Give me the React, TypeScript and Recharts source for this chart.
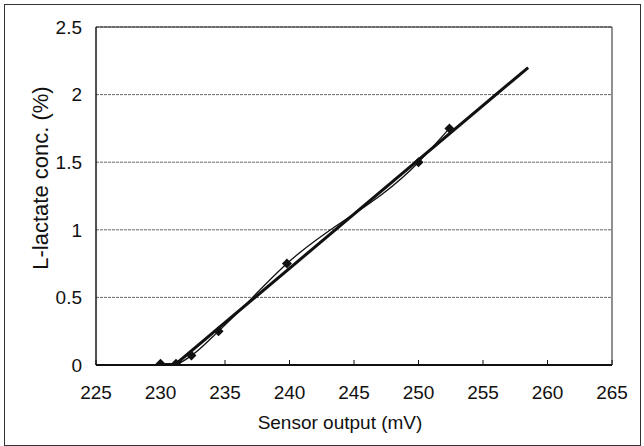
import {
  LineChart,
  Line,
  XAxis,
  YAxis,
  CartesianGrid,
  ReferenceArea,
} from 'recharts'

// measured points (sensor output mV -> L-lactate %)
const sensorOutput = [230.0, 231.2, 232.4, 234.5, 239.8, 250.0, 252.4]
const lactateConc = [0.01, 0.01, 0.07, 0.25, 0.75, 1.5, 1.75]

// least-squares fit line, drawn between two end points
const fitOutput = [231.1, 258.5]
const fitConc = [0, 2.2]

const xTicks = [225, 230, 235, 240, 245, 250, 255, 260, 265]
const yTicks = [0, 0.5, 1, 1.5, 2, 2.5]

const measured = sensorOutput.map((x, i) => ({ x, y: lactateConc[i] }))
const fit = fitOutput.map((x, i) => ({ x, y: fitConc[i] }))

const FONT = '"Liberation Sans", Arial, sans-serif'
const tickStyle = { fill: '#111', fontSize: 19, fontFamily: FONT }

interface DotProps {
  cx?: number
  cy?: number
  index?: number
}

function Diamond({ cx, cy, index }: DotProps) {
  if (cx == null || cy == null) return null
  const r = 5
  return (
    <path
      key={`d-${index}`}
      d={`M${cx},${cy - r}L${cx + r},${cy}L${cx},${cy + r}L${cx - r},${cy}Z`}
      fill="#111"
    />
  )
}

function YTitle() {
  return (
    <text
      x={40}
      y={178}
      transform="rotate(-90 40 178)"
      textAnchor="middle"
      dominantBaseline="central"
      fill="#111"
      fontSize={22}
      fontFamily={FONT}
    >
      L-lactate conc. (%)
    </text>
  )
}

function XTitle() {
  return (
    <text
      x={340}
      y={422}
      textAnchor="middle"
      dominantBaseline="central"
      fill="#111"
      fontSize={19}
      fontFamily={FONT}
    >
      Sensor output (mV)
    </text>
  )
}

export default function App() {
  return (
    <div style={{ position: 'fixed', left: 0, top: 0, width: 644, height: 446, background: '#fff' }}>
      <div
        style={{
          position: 'absolute',
          left: 4,
          top: 4,
          width: 637,
          height: 442,
          border: '1px solid #333',
          boxSizing: 'border-box',
        }}
      />
      <LineChart
        width={644}
        height={446}
        margin={{ top: 27, right: 32, bottom: 21, left: 36 }}
        style={{ position: 'absolute', left: 0, top: 0 }}
      >
        <CartesianGrid
          horizontal
          vertical={false}
          stroke="#666"
          strokeDasharray="3 1"
        />
        <XAxis
          type="number"
          dataKey="x"
          domain={[225, 265]}
          ticks={xTicks}
          allowDataOverflow
          height={60}
          tick={tickStyle}
          tickSize={-5}
          tickMargin={26}
          tickLine={{ stroke: '#111' }}
          axisLine={{ stroke: '#111', strokeWidth: 2 }}
          label={<XTitle />}
        />
        <YAxis
          type="number"
          dataKey="y"
          domain={[0, 2.5]}
          ticks={yTicks}
          allowDataOverflow
          width={60}
          tick={tickStyle}
          tickSize={0}
          tickMargin={14}
          tickLine={false}
          axisLine={{ stroke: '#111' }}
          label={<YTitle />}
        />
        <ReferenceArea
          x1={225}
          x2={265}
          y1={0}
          y2={2.5}
          fill="none"
          stroke="#222"
          strokeWidth={1}
        />
        <Line
          data={measured}
          dataKey="y"
          type="monotone"
          stroke="#111"
          strokeWidth={1.3}
          dot={<Diamond />}
          activeDot={false}
          isAnimationActive={false}
        />
        <Line
          data={fit}
          dataKey="y"
          type="linear"
          stroke="#111"
          strokeWidth={3}
          dot={false}
          activeDot={false}
          isAnimationActive={false}
        />
      </LineChart>
    </div>
  )
}
